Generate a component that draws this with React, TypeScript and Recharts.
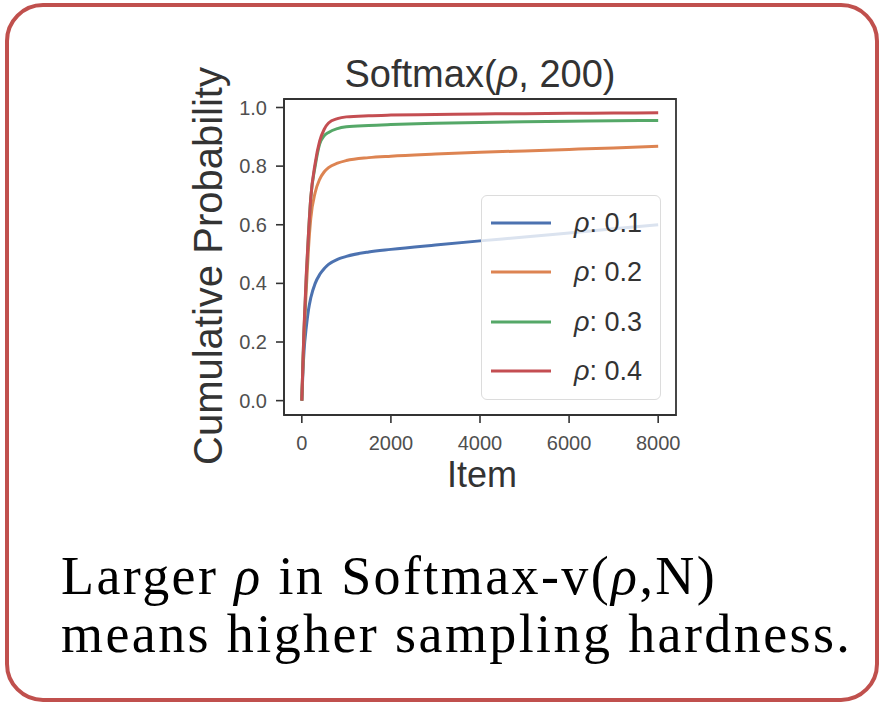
import { LineChart, Line, XAxis, YAxis, Legend, ReferenceArea, Label } from 'recharts'

// item index along the x axis
const ITEMS = [0, 25, 50, 100, 150, 200, 300, 400, 500, 600, 800, 1000, 1500, 2000, 3000, 4000, 5000, 6000, 7000, 8000]

// cumulative probability per rho
const RHO_01 = [0, 0.1, 0.17, 0.25, 0.31, 0.35, 0.4, 0.43, 0.45, 0.465, 0.482, 0.492, 0.507, 0.516, 0.531, 0.545, 0.558, 0.572, 0.586, 0.6]
const RHO_02 = [0, 0.12, 0.22, 0.38, 0.52, 0.62, 0.71, 0.755, 0.78, 0.795, 0.81, 0.819, 0.829, 0.834, 0.841, 0.847, 0.852, 0.857, 0.862, 0.868]
const RHO_03 = [0, 0.13, 0.24, 0.42, 0.57, 0.69, 0.8, 0.875, 0.903, 0.915, 0.928, 0.934, 0.939, 0.942, 0.946, 0.949, 0.951, 0.953, 0.955, 0.956]
const RHO_04 = [0, 0.13, 0.25, 0.43, 0.57, 0.69, 0.81, 0.885, 0.925, 0.947, 0.962, 0.968, 0.972, 0.974, 0.976, 0.978, 0.979, 0.98, 0.981, 0.982]

const X_TICKS = [0, 2000, 4000, 6000, 8000]
const Y_TICKS = [0, 0.2, 0.4, 0.6, 0.8, 1.0]

const SERIES = [
  { key: 'r1', name: 'ρ: 0.1', color: '#4c72b0', values: RHO_01 },
  { key: 'r2', name: 'ρ: 0.2', color: '#dd8452', values: RHO_02 },
  { key: 'r3', name: 'ρ: 0.3', color: '#55a868', values: RHO_03 },
  { key: 'r4', name: 'ρ: 0.4', color: '#c44e52', values: RHO_04 },
]

const data = ITEMS.map((item, i) => {
  const row: Record<string, number> = { item }
  SERIES.forEach((s) => (row[s.key] = s.values[i]))
  return row
})

const SANS = '"Liberation Sans", Arial, Helvetica, sans-serif'
const SERIF = '"Liberation Serif", "Times New Roman", serif'
const SPINE = '#333333'
const TICK_TEXT = '#4f4f4f'

const X_DOMAIN: [number, number] = [-400, 8400]
const Y_DOMAIN: [number, number] = [-0.049, 1.029]

// splits "ρ: 0.1" so the greek letter can be set in italics like mathtext
function RhoText({ text }: { text: string }) {
  const rest = text.replace(/^ρ/, '')
  return (
    <>
      <tspan fontStyle="italic">ρ</tspan>
      {rest}
    </>
  )
}

// eslint-disable-next-line @typescript-eslint/no-explicit-any
function LegendBox(props: any) {
  const { payload } = props
  if (!payload) return null
  return (
    <div
      style={{
        width: 180,
        height: 205,
        boxSizing: 'border-box',
        border: '1px solid #dcdcdc',
        borderRadius: 6,
        background: 'rgba(255,255,255,0.8)',
        position: 'relative',
      }}
    >
      {/* eslint-disable-next-line @typescript-eslint/no-explicit-any */}
      {payload.map((entry: any, i: number) => (
        <div
          key={entry.value}
          style={{ position: 'absolute', left: 0, top: 27 + i * 49.3 - 15, height: 30, width: 180 }}
        >
          <svg width={180} height={30} style={{ display: 'block' }}>
            <line x1={9} x2={69} y1={15} y2={15} stroke={entry.color} strokeWidth={3} />
            <text x={92} y={24} fontFamily={SANS} fontSize={27} fill="#333">
              <RhoText text={String(entry.value)} />
            </text>
          </svg>
        </div>
      ))}
    </div>
  )
}

// eslint-disable-next-line @typescript-eslint/no-explicit-any
function YTitle(props: any) {
  const { viewBox } = props
  const x = viewBox.x + 18
  const y = viewBox.y + viewBox.height / 2 + 9
  return (
    <text
      transform={`translate(${x}, ${y}) rotate(-90)`}
      textAnchor="middle"
      fontFamily={SANS}
      fontSize={40}
      fill="#333"
    >
      Cumulative Probability
    </text>
  )
}

// eslint-disable-next-line @typescript-eslint/no-explicit-any
function XTitle(props: any) {
  const { viewBox } = props
  return (
    <text
      x={viewBox.x + viewBox.width / 2 + 2}
      y={viewBox.y + 72}
      textAnchor="middle"
      fontFamily={SANS}
      fontSize={36}
      fill="#333"
    >
      Item
    </text>
  )
}

export default function App() {
  return (
    <div style={{ position: 'absolute', left: 0, top: 0, width: 882, height: 706, background: '#fff' }}>
      {/* rounded frame around the whole card */}
      <div
        style={{
          position: 'absolute',
          left: 5,
          top: 3,
          width: 874,
          height: 699,
          boxSizing: 'border-box',
          border: '4px solid #c0504d',
          borderRadius: 38,
        }}
      />

      <div
        style={{
          position: 'absolute',
          left: 280,
          top: 55,
          width: 400,
          textAlign: 'center',
          fontFamily: SANS,
          fontSize: 38,
          lineHeight: '38px',
          color: '#333',
        }}
      >
        Softmax(<i>ρ</i>, 200)
      </div>

      <div style={{ position: 'absolute', left: 0, top: 0 }}>
        <LineChart
          width={882}
          height={706}
          data={data}
          margin={{ top: 99, right: 206, bottom: 211, left: 204 }}
        >
          <XAxis
            dataKey="item"
            type="number"
            domain={X_DOMAIN}
            ticks={X_TICKS}
            allowDataOverflow
            height={80}
            tickSize={8}
            tickMargin={13}
            tick={{ fill: TICK_TEXT, fontSize: 20, fontFamily: SANS }}
            tickLine={{ stroke: SPINE, strokeWidth: 1.6 }}
            axisLine={{ stroke: SPINE, strokeWidth: 1.6 }}
          >
            <Label content={<XTitle />} />
          </XAxis>
          <YAxis
            type="number"
            domain={Y_DOMAIN}
            ticks={Y_TICKS}
            allowDataOverflow
            width={80}
            tickSize={8}
            tickMargin={9}
            tickFormatter={(v: number) => v.toFixed(1)}
            tick={{ fill: TICK_TEXT, fontSize: 20, fontFamily: SANS }}
            tickLine={{ stroke: SPINE, strokeWidth: 1.6 }}
            axisLine={{ stroke: SPINE, strokeWidth: 1.6 }}
          >
            <Label content={<YTitle />} />
          </YAxis>
          <ReferenceArea
            x1={X_DOMAIN[0]}
            x2={X_DOMAIN[1]}
            y1={Y_DOMAIN[0]}
            y2={Y_DOMAIN[1]}
            fill="none"
            stroke={SPINE}
            strokeWidth={1.8}
            ifOverflow="visible"
          />
          {SERIES.map((s) => (
            <Line
              key={s.key}
              type="monotone"
              dataKey={s.key}
              name={s.name}
              stroke={s.color}
              strokeWidth={3}
              dot={false}
              activeDot={false}
              isAnimationActive={false}
            />
          ))}
          <Legend
            layout="vertical"
            align="center"
            verticalAlign="middle"
            content={<LegendBox />}
            wrapperStyle={{ left: 481, top: 195, width: 180 }}
          />
        </LineChart>
      </div>

      <div
        style={{
          position: 'absolute',
          left: 61,
          top: 547,
          fontFamily: SERIF,
          fontSize: 54,
          lineHeight: '58px',
          letterSpacing: 2.4,
          color: '#000',
          whiteSpace: 'nowrap',
        }}
      >
        Larger <i>ρ</i> in Softmax-v(<i>ρ</i>,N)
        <br />
        means higher sampling hardness.
      </div>
    </div>
  )
}
